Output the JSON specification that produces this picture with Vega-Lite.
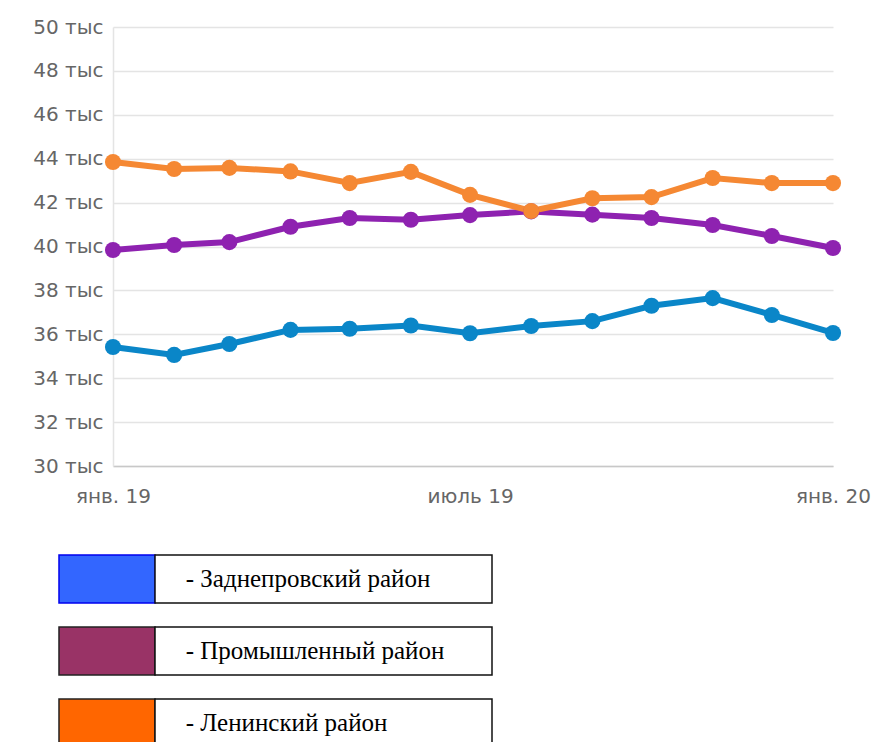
{
  "$schema": "https://vega.github.io/schema/vega-lite/v6.json",
  "padding": {"left": 32, "top": 17, "right": 0, "bottom": 0},
  "background": "white",
  "config": {"view": {"stroke": null}, "concat": {"spacing": 48}},
  "datasets": {
    "lines": [
      {"district": "Заднепровский район", "date": "2019-01-01", "value": 35.42},
      {"district": "Заднепровский район", "date": "2019-02-01", "value": 35.06},
      {"district": "Заднепровский район", "date": "2019-03-01", "value": 35.56},
      {"district": "Заднепровский район", "date": "2019-04-01", "value": 36.2},
      {"district": "Заднепровский район", "date": "2019-05-01", "value": 36.25},
      {"district": "Заднепровский район", "date": "2019-06-01", "value": 36.4},
      {"district": "Заднепровский район", "date": "2019-07-01", "value": 36.05},
      {"district": "Заднепровский район", "date": "2019-08-01", "value": 36.38},
      {"district": "Заднепровский район", "date": "2019-09-01", "value": 36.6},
      {"district": "Заднепровский район", "date": "2019-10-01", "value": 37.3},
      {"district": "Заднепровский район", "date": "2019-11-01", "value": 37.65},
      {"district": "Заднепровский район", "date": "2019-12-01", "value": 36.88},
      {"district": "Заднепровский район", "date": "2020-01-01", "value": 36.06},
      {"district": "Промышленный район", "date": "2019-01-01", "value": 39.84},
      {"district": "Промышленный район", "date": "2019-02-01", "value": 40.07},
      {"district": "Промышленный район", "date": "2019-03-01", "value": 40.2},
      {"district": "Промышленный район", "date": "2019-04-01", "value": 40.9},
      {"district": "Промышленный район", "date": "2019-05-01", "value": 41.3},
      {"district": "Промышленный район", "date": "2019-06-01", "value": 41.22},
      {"district": "Промышленный район", "date": "2019-07-01", "value": 41.43},
      {"district": "Промышленный район", "date": "2019-08-01", "value": 41.6},
      {"district": "Промышленный район", "date": "2019-09-01", "value": 41.45},
      {"district": "Промышленный район", "date": "2019-10-01", "value": 41.3},
      {"district": "Промышленный район", "date": "2019-11-01", "value": 40.98},
      {"district": "Промышленный район", "date": "2019-12-01", "value": 40.48},
      {"district": "Промышленный район", "date": "2020-01-01", "value": 39.93},
      {"district": "Ленинский район", "date": "2019-01-01", "value": 43.85},
      {"district": "Ленинский район", "date": "2019-02-01", "value": 43.53},
      {"district": "Ленинский район", "date": "2019-03-01", "value": 43.58},
      {"district": "Ленинский район", "date": "2019-04-01", "value": 43.42},
      {"district": "Ленинский район", "date": "2019-05-01", "value": 42.89},
      {"district": "Ленинский район", "date": "2019-06-01", "value": 43.4},
      {"district": "Ленинский район", "date": "2019-07-01", "value": 42.35},
      {"district": "Ленинский район", "date": "2019-08-01", "value": 41.62},
      {"district": "Ленинский район", "date": "2019-09-01", "value": 42.2},
      {"district": "Ленинский район", "date": "2019-10-01", "value": 42.25},
      {"district": "Ленинский район", "date": "2019-11-01", "value": 43.12},
      {"district": "Ленинский район", "date": "2019-12-01", "value": 42.89},
      {"district": "Ленинский район", "date": "2020-01-01", "value": 42.89}
    ],
    "legend": [
      {"district": "Заднепровский район", "label": "-  Заднепровский район"},
      {"district": "Промышленный район", "label": "- Промышленный район"},
      {"district": "Ленинский район", "label": "- Ленинский район"}
    ]
  },
  "vconcat": [
    {
      "width": 720,
      "height": 439,
      "data": {"name": "lines"},
      "encoding": {
        "x": {
          "field": "date",
          "type": "temporal",
          "scale": {
            "type": "utc",
            "domain": [
              {"year": 2019, "month": 1, "date": 1, "utc": true},
              {"year": 2020, "month": 1, "date": 1, "utc": true}
            ],
            "nice": false
          },
          "axis": {
            "values": [
              {"year": 2019, "month": 1, "date": 1, "utc": true},
              {"year": 2019, "month": 7, "date": 1, "utc": true},
              {"year": 2020, "month": 1, "date": 1, "utc": true}
            ],
            "labelExpr": "(utcmonth(datum.value) == 0 ? 'янв. ' : 'июль ') + utcFormat(datum.value, '%y')",
            "title": null,
            "grid": false,
            "ticks": false,
            "domainColor": "#c8c8c8",
            "domainWidth": 1.5,
            "labelFont": "DejaVu Sans",
            "labelFontSize": 20,
            "labelColor": "#666666",
            "labelPadding": 20,
            "labelFlush": false,
            "labelOverlap": false
          }
        },
        "y": {
          "field": "value",
          "type": "quantitative",
          "scale": {"domain": [30, 50], "nice": false, "zero": false},
          "axis": {
            "values": [30, 32, 34, 36, 38, 40, 42, 44, 46, 48, 50],
            "labelExpr": "datum.value + ' тыс'",
            "title": null,
            "grid": true,
            "gridColor": "#e4e4e4",
            "gridWidth": 1.5,
            "ticks": false,
            "domainColor": "#e4e4e4",
            "domainWidth": 1.5,
            "labelFont": "DejaVu Sans",
            "labelFontSize": 20,
            "labelColor": "#666666",
            "labelPadding": 10
          }
        },
        "color": {
          "field": "district",
          "type": "nominal",
          "scale": {
            "domain": ["Заднепровский район", "Промышленный район", "Ленинский район"],
            "range": ["#0a86c8", "#8e22b0", "#f58833"]
          },
          "legend": null
        }
      },
      "layer": [
        {"mark": {"type": "line", "strokeWidth": 6}},
        {"mark": {"type": "point", "filled": true, "size": 260, "opacity": 1}}
      ]
    },
    {
      "width": 379,
      "height": 192,
      "data": {"name": "legend"},
      "encoding": {
        "y": {
          "field": "district",
          "type": "nominal",
          "sort": ["Заднепровский район", "Промышленный район", "Ленинский район"],
          "scale": {"paddingInner": 0.3333, "paddingOuter": 0},
          "axis": null
        }
      },
      "layer": [
        {
          "mark": {"type": "rect", "strokeWidth": 1.5},
          "encoding": {
            "x": {"datum": 0, "type": "quantitative", "scale": {"domain": [0.5625, 4.51], "nice": false, "zero": false}, "axis": null},
            "x2": {"datum": 1},
            "fill": {
              "field": "district",
              "type": "nominal",
              "scale": {
                "domain": ["Заднепровский район", "Промышленный район", "Ленинский район"],
                "range": ["#3366ff", "#993366", "#ff6600"]
              },
              "legend": null
            },
            "stroke": {
              "field": "district",
              "type": "nominal",
              "scale": {
                "domain": ["Заднепровский район", "Промышленный район", "Ленинский район"],
                "range": ["#0000ee", "#222222", "#222222"]
              },
              "legend": null
            }
          }
        },
        {
          "mark": {"type": "rect", "fill": "white", "stroke": "#111111", "strokeWidth": 1.5},
          "encoding": {
            "x": {"datum": 1, "type": "quantitative", "axis": null},
            "x2": {"datum": 4.51}
          }
        },
        {
          "mark": {"type": "text", "font": "Liberation Serif", "fontSize": 25, "align": "left", "baseline": "middle", "color": "#000000"},
          "encoding": {
            "x": {"datum": 1.32, "type": "quantitative", "axis": null},
            "text": {"field": "label"}
          }
        }
      ]
    }
  ],
  "resolve": {"scale": {"x": "independent", "y": "independent", "color": "independent", "fill": "independent", "stroke": "independent"}}
}
